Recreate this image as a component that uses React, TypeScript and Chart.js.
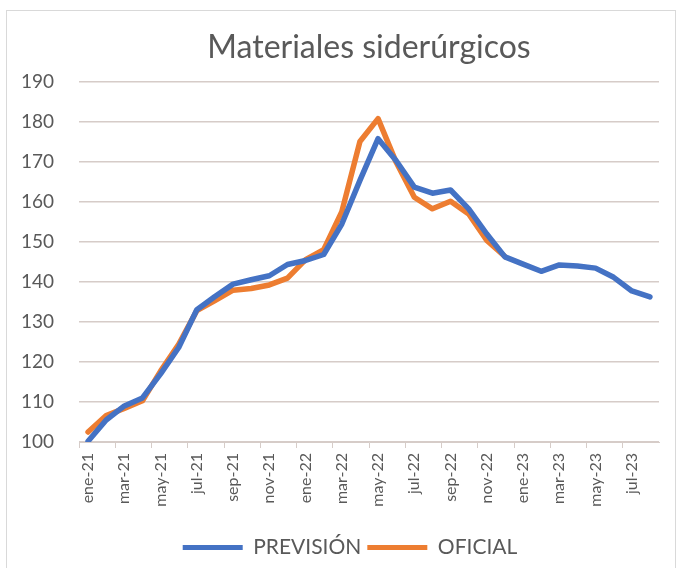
import { useEffect, useRef } from 'react';
import { Chart, registerables } from 'chart.js';

Chart.register(...registerables);

const categories = [
  'ene-21', 'feb-21', 'mar-21', 'abr-21', 'may-21', 'jun-21', 'jul-21', 'ago-21',
  'sep-21', 'oct-21', 'nov-21', 'dic-21', 'ene-22', 'feb-22', 'mar-22', 'abr-22',
  'may-22', 'jun-22', 'jul-22', 'ago-22', 'sep-22', 'oct-22', 'nov-22', 'dic-22',
  'ene-23', 'feb-23', 'mar-23', 'abr-23', 'may-23', 'jun-23', 'jul-23', 'ago-23',
];

const prevision = [
  100.2, 105.5, 109.0, 111.0, 117.0, 123.6, 133.0, 136.3,
  139.4, 140.5, 141.5, 144.3, 145.3, 146.8, 154.4, 165.3,
  175.7, 170.2, 163.6, 162.1, 162.9, 158.2, 151.9, 146.2,
  144.4, 142.6, 144.2, 143.9, 143.4, 141.1, 137.7, 136.2,
];

const oficial = [
  102.5, 106.6, 108.4, 110.3, 117.7, 124.4, 132.8, 135.3,
  137.9, 138.3, 139.2, 140.9, 145.5, 148.0, 157.5, 175.0,
  180.7, 169.8, 161.1, 158.2, 160.1, 156.9, 150.3, 146.3,
  null, null, null, null, null, null, null, null,
];

const yTicks = { min: 100, max: 190, step: 10 };

const FONT = 'Lato, "Open Sans", sans-serif';
const TEXT = '#595959';
const BLUE = '#4472C4';
const ORANGE = '#ED7D31';
const GRID = '#D6CCC8';

// shifts the legend box so it is centred like the original (Excel) legend
const legendShift = {
  id: 'legendShift',
  afterLayout(chart: any) {
    const lg = chart.legend;
    if (!lg) return;
    lg.left = 41;
    lg.width = lg.right - lg.left;
  },
};

export default function App() {
  const ref = useRef<HTMLCanvasElement>(null);

  useEffect(() => {
    document.body.style.margin = '0';
    const canvas = ref.current;
    if (!canvas) return;
    const chart = new Chart(canvas, {
      type: 'line',
      data: {
        labels: categories,
        datasets: [
          {
            label: 'PREVISIÓN',
            data: prevision,
            borderColor: BLUE,
            backgroundColor: BLUE,
            borderWidth: 5.5,
            pointRadius: 0,
            tension: 0,
            borderJoinStyle: 'round',
            borderCapStyle: 'round',
          },
          {
            label: 'OFICIAL',
            data: oficial,
            borderColor: ORANGE,
            backgroundColor: ORANGE,
            borderWidth: 5.5,
            pointRadius: 0,
            tension: 0,
            borderJoinStyle: 'round',
            borderCapStyle: 'round',
          },
        ],
      },
      plugins: [legendShift],
      options: {
        animation: false,
        responsive: false,
        maintainAspectRatio: false,
        layout: { padding: { left: 0, right: 22, top: 0, bottom: 0 } },
        plugins: {
          title: {
            display: true,
            fullSize: false,
            text: 'Materiales siderúrgicos',
            color: TEXT,
            font: { family: FONT, size: 32, weight: 'normal' },
            padding: { top: 28, bottom: 15 },
          },
          legend: {
            position: 'bottom',
            labels: {
              color: TEXT,
              font: { family: FONT, size: 21 },
              boxWidth: 60,
              boxHeight: 5,
              padding: 6,
              generateLabels: (c: any) =>
                c.data.datasets.map((ds: any, i: number) => ({
                  text: ds.label,
                  fillStyle: ds.borderColor,
                  strokeStyle: ds.borderColor,
                  lineWidth: 0,
                  fontColor: TEXT,
                  datasetIndex: i,
                  hidden: false,
                })),
            },
          },
          tooltip: { enabled: false },
        },
        scales: {
          x: {
            type: 'category',
            offset: true,
            border: { display: true, color: GRID, width: 1 },
            grid: {
              offset: true,
              drawOnChartArea: false,
              drawTicks: true,
              tickLength: 6,
              color: (ctx: any) => (ctx.index % 2 === 0 ? GRID : 'rgba(0,0,0,0)'),
            },
            ticks: {
              autoSkip: false,
              maxRotation: 90,
              minRotation: 90,
              color: TEXT,
              font: { family: FONT, size: 16 },
              padding: 5,
              callback: (_v: any, i: number) => (i % 2 === 0 ? categories[i] : ''),
            },
            afterFit: (s: any) => {
              s.height = 89;
            },
          },
          y: {
            min: yTicks.min,
            max: yTicks.max,
            border: { display: false },
            grid: { color: GRID, lineWidth: 1.5, drawTicks: false },
            ticks: {
              stepSize: yTicks.step,
              color: TEXT,
              font: { family: FONT, size: 19 },
              padding: 25,
            },
            afterFit: (s: any) => {
              s.width = 79;
            },
          },
        },
      },
    });
    return () => chart.destroy();
  }, []);

  return (
    <div style={{ position: 'relative', width: 681, height: 568, background: '#fff', overflow: 'hidden' }}>
      <div
        style={{
          position: 'absolute',
          left: 6,
          top: 10,
          width: 670,
          height: 580,
          border: '1px solid #D9D9D9',
          boxSizing: 'border-box',
        }}
      />
      <canvas ref={ref} width={681} height={568} style={{ position: 'absolute', left: 0, top: 0 }} />
    </div>
  );
}
